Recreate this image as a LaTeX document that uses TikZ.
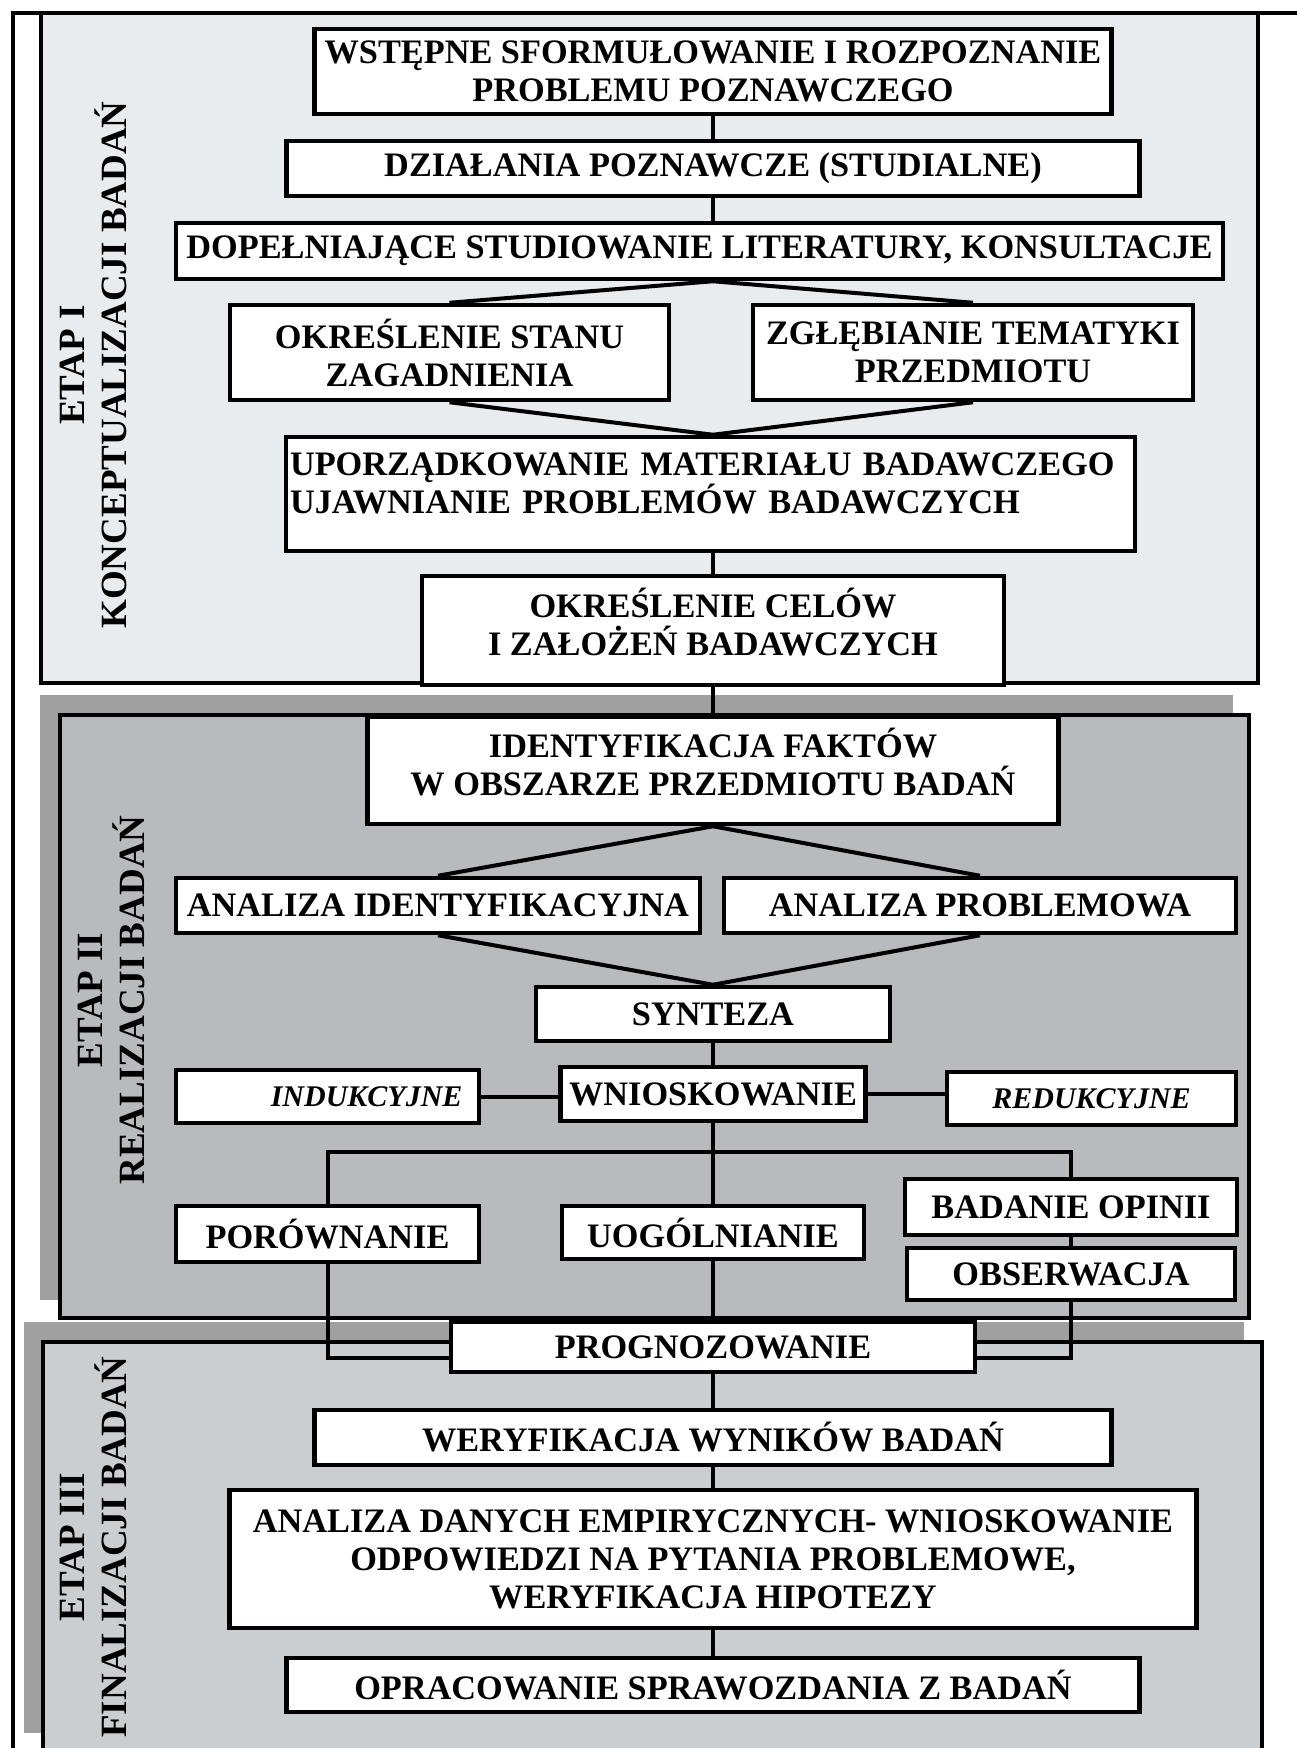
\documentclass[tikz,border=0pt]{standalone}
\usepackage{fontspec}
\setmainfont{Liberation Serif}
\usetikzlibrary{calc}
\definecolor{stageone}{RGB}{232,236,239}
\definecolor{stagetwo}{RGB}{184,186,190}
\definecolor{stagethree}{RGB}{203,206,209}
\definecolor{shadowgray}{RGB}{160,160,160}
\newcommand{\stepfont}{\bfseries\fontsize{34.3}{38}\selectfont}
\newcommand{\sidefont}{\bfseries\itshape\fontsize{30}{34}\selectfont}
\newcommand{\labelfont}{\bfseries\fontsize{37}{42}\selectfont}
\tikzset{
  stagebox/.style={draw, line width=4.5pt},
  stepbox/.style={draw, line width=4.5pt, fill=white, inner sep=2pt, align=center, font=\stepfont},
  sidebox/.style={stepbox, font=\sidefont},
  link/.style={line width=4pt},
  stagelabel/.style={rotate=90, align=center, font=\labelfont}
}
\begin{document}
\begin{tikzpicture}[x=1pt,y=-1pt]
\useasboundingbox (0,0) rectangle (1297,1748);
\fill[white] (0,0) rectangle (1297,1748);
\draw[line width=4pt] (13,13) rectangle (1330,1780);
\draw[stagebox,fill=stageone] (41,13) rectangle (1258,683);
\fill[shadowgray] (40,695) rectangle (1233,1300);
\draw[stagebox,fill=stagetwo] (60,715) rectangle (1249,1318);
\fill[shadowgray] (24,1322) rectangle (1244,1733);
\draw[stagebox,fill=stagethree] (43,1342) rectangle (1262,1780);

\node[stagelabel] (etap1) at (93,365) {ETAP I\\KONCEPTUALIZACJI BADAŃ};
\node[stagelabel] (etap2) at (111,1000) {ETAP II\\REALIZACJI BADAŃ};
\node[stagelabel] (etap3) at (93,1547) {ETAP III\\FINALIZACJI BADAŃ};

\node[stepbox, minimum width=797pt, minimum height=85pt] (b1) at (713,71.5) {WSTĘPNE SFORMUŁOWANIE I ROZPOZNANIE\\PROBLEMU POZNAWCZEGO};
\node[stepbox, minimum width=853pt, minimum height=55pt] (b2) at (713,168.5) {DZIAŁANIA POZNAWCZE (STUDIALNE)};
\node[stepbox, minimum width=1047pt, minimum height=56pt] (b3) at (699.5,251) {DOPEŁNIAJĄCE STUDIOWANIE LITERATURY, KONSULTACJE};
\node[stepbox, minimum width=439pt, minimum height=95pt] (b4) at (449.5,352.5) {OKREŚLENIE STANU\\ZAGADNIENIA};
\node[stepbox, minimum width=440pt, minimum height=95pt] (b5) at (973,352.5) {ZGŁĘBIANIE TEMATYKI\\PRZEDMIOTU};
\node[stepbox, minimum width=849pt, minimum height=114pt, text width=841pt, align=left] (b6) at (710.5,494) {UPORZĄDKOWANIE MATERIAŁU BADAWCZEGO\\UJAWNIANIE PROBLEMÓW BADAWCZYCH\\[-16pt]\mbox{}};
\node[stepbox, minimum width=582pt, minimum height=109pt] (b7) at (713,630.5) {OKREŚLENIE CELÓW\\I ZAŁOŻEŃ BADAWCZYCH\\[-20pt]\mbox{}};

\node[stepbox, minimum width=691pt, minimum height=107pt] (b8) at (713,770.5) {IDENTYFIKACJA FAKTÓW\\W OBSZARZE PRZEDMIOTU BADAŃ\\[-20pt]\mbox{}};
\node[stepbox, minimum width=524pt, minimum height=55pt] (b9) at (438,905.5) {ANALIZA IDENTYFIKACYJNA};
\node[stepbox, minimum width=512pt, minimum height=55pt] (b10) at (980,905.5) {ANALIZA PROBLEMOWA};
\node[stepbox, minimum width=354pt, minimum height=54pt] (b11) at (713,1014) {SYNTEZA};
\node[stepbox, minimum width=305pt, minimum height=54pt] (b12) at (713,1094) {WNIOSKOWANIE};
\node[sidebox, minimum width=303pt, minimum height=53pt, text width=270pt, align=right] (b13) at (327.5,1096.5) {INDUKCYJNE};
\node[sidebox, minimum width=289pt, minimum height=53pt] (b14) at (1091.5,1098.5) {REDUKCYJNE};
\node[stepbox, minimum width=303pt, minimum height=56pt] (b15) at (327.5,1234) {PORÓWNANIE};
\node[stepbox, minimum width=302pt, minimum height=53pt] (b16) at (713,1232.5) {UOGÓLNIANIE};
\node[stepbox, minimum width=332pt, minimum height=56pt] (b17) at (1071,1207) {BADANIE OPINII};
\node[stepbox, minimum width=328pt, minimum height=52pt] (b18) at (1071,1274) {OBSERWACJA};

\node[stepbox, minimum width=524pt, minimum height=50pt] (b19) at (713,1347) {PROGNOZOWANIE};
\node[stepbox, minimum width=797pt, minimum height=55pt] (b20) at (713,1437.5) {WERYFIKACJA WYNIKÓW BADAŃ};
\node[stepbox, minimum width=967pt, minimum height=138pt] (b21) at (713,1559) {ANALIZA DANYCH EMPIRYCZNYCH- WNIOSKOWANIE\\ODPOWIEDZI NA PYTANIA PROBLEMOWE,\\WERYFIKACJA HIPOTEZY};
\node[stepbox, minimum width=853pt, minimum height=54pt] (b22) at (713,1685) {OPRACOWANIE SPRAWOZDANIA Z BADAŃ};

\draw[link] (b1.south) -- (b2.north);
\draw[link] (b2.south) -- (b2.south |- b3.north);
\draw[link] (b2.south |- b3.south) -- (b4.north);
\draw[link] (b2.south |- b3.south) -- (b5.north);
\draw[link] (b4.south) -- (b7.north |- b6.north);
\draw[link] (b5.south) -- (b7.north |- b6.north);
\draw[link] (b7.north |- b6.south) -- (b7.north);
\draw[link] (b7.south) -- (b8.north);
\draw[link] (b8.south) -- (b9.north);
\draw[link] (b8.south) -- (b10.north);
\draw[link] (b9.south) -- (b11.north);
\draw[link] (b10.south) -- (b11.north);
\draw[link] (b11.south) -- (b12.north);
\draw[link] (b13.east) -- (b13.east -| b12.west);
\draw[link] (b12.east) -- (b12.east -| b14.west);
\coordinate (fork) at (713,1152);
\draw[link] (b12.south) -- (b16.north);
\draw[link] (b15.north) |- (fork) -| (b17.north);
\draw[link] (b17.south) -- (b18.north);
\draw[link] (b16.south) -- (b19.north);
\draw[link] (b15.south) |- ([yshift=-11pt]b19.west);
\draw[link] (b18.south) |- ([yshift=-11pt]b19.east);
\draw[link] (b19.south) -- (b20.north);
\draw[link] (b20.south) -- (b21.north);
\draw[link] (b21.south) -- (b22.north);
\end{tikzpicture}
\end{document}
